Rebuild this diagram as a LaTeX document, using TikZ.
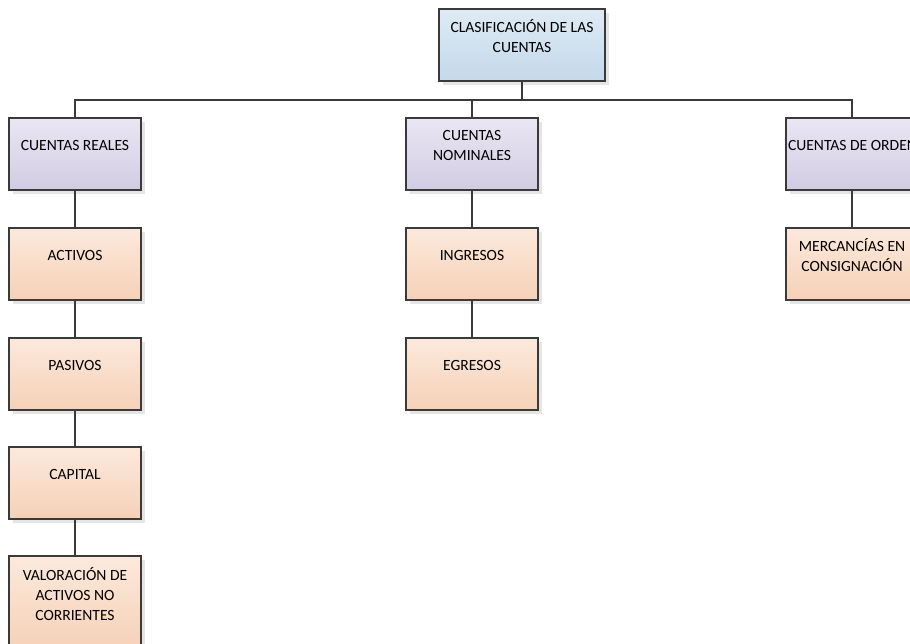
\documentclass[tikz,border=0pt]{standalone}
\usepackage{fontspec}
\setmainfont{Carlito}
\usetikzlibrary{shadows}

\definecolor{linegray}{HTML}{3A3A3A}
\definecolor{bluetop}{HTML}{DFEBF5}
\definecolor{bluebot}{HTML}{C3D8EA}
\definecolor{lilatop}{HTML}{EAE6F3}
\definecolor{lilabot}{HTML}{D2CCE3}
\definecolor{peachtop}{HTML}{FCE9DC}
\definecolor{peachbot}{HTML}{F5D1B7}

% text sits in the upper part of every box
\newcommand{\boxtext}[2][54pt]{\parbox[b][#1][c]{124pt}{\centering #2}}

\begin{document}
\begin{tikzpicture}[x=1pt,y=-1pt,
  font=\fontsize{15.6}{20}\selectfont,
  cbox/.style={draw=linegray, line width=1.4pt, inner sep=0pt, text depth=18pt,
    minimum width=132pt, minimum height=72pt,
    drop shadow={shadow xshift=4pt, shadow yshift=-4pt, fill=black!10, opacity=1}},
  topbox/.style={cbox, minimum width=166pt, top color=bluetop, bottom color=bluebot},
  groupbox/.style={cbox, top color=lilatop, bottom color=lilabot},
  itembox/.style={cbox, top color=peachtop, bottom color=peachbot},
  link/.style={draw=linegray, line width=2.2pt}]
\useasboundingbox (0,0) rectangle (910,644);

% root
\node[topbox] (clas) at (522,45) {\parbox[b][54pt][c]{158pt}{\centering CLASIFICACIÓN DE LAS\\CUENTAS}};

% first level
\node[groupbox] (real) at (75,154) {\boxtext{CUENTAS REALES}};
\node[groupbox] (nom) at (472,154) {\boxtext{CUENTAS\\NOMINALES}};
\node[groupbox] (ord) at (852,154) {\boxtext{\hspace*{-2pt}\mbox{CUENTAS DE ORDEN}}};

% cuentas reales
\node[itembox] (act) at (75,264) {\boxtext{ACTIVOS}};
\node[itembox] (pas) at (75,374) {\boxtext{PASIVOS}};
\node[itembox] (cap) at (75,483) {\boxtext{CAPITAL}};
\node[itembox, minimum height=94pt] (val) at (75,603) {\boxtext[76pt]{VALORACIÓN DE\\ACTIVOS NO\\CORRIENTES}};

% cuentas nominales
\node[itembox] (ing) at (472,264) {\boxtext{INGRESOS}};
\node[itembox] (egr) at (472,374) {\boxtext{EGRESOS}};

% cuentas de orden
\node[itembox] (mer) at (852,264) {\boxtext{MERCANCÍAS EN\\CONSIGNACIÓN}};

% connectors
\draw[link] (clas.south) -- ++(0,18) -| (real.north);
\draw[link] (clas.south) -- ++(0,18) -| (nom.north);
\draw[link] (clas.south) -- ++(0,18) -| (ord.north);
\draw[link] (real.south) -- (act.north);
\draw[link] (act.south) -- (pas.north);
\draw[link] (pas.south) -- (cap.north);
\draw[link] (cap.south) -- (val.north);
\draw[link] (nom.south) -- (ing.north);
\draw[link] (ing.south) -- (egr.north);
\draw[link] (ord.south) -- (mer.north);
\end{tikzpicture}
\end{document}
